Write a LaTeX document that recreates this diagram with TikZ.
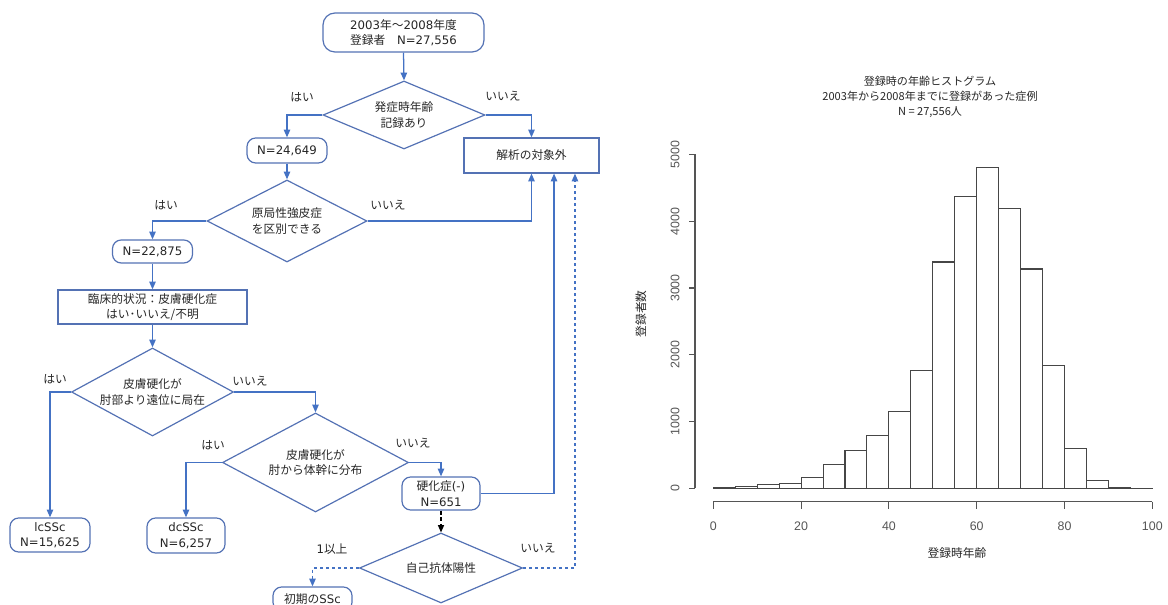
\documentclass[tikz,border=0pt]{standalone}
\usepackage{fontspec}
\setmainfont{DejaVu Sans}
\newfontfamily\jp{Noto Sans CJK JP}
\newfontfamily\arl{Liberation Sans}
\usetikzlibrary{shapes.geometric,arrows.meta}
\definecolor{lnblue}{RGB}{68,114,196}
\definecolor{shblue}{RGB}{84,114,180}
\definecolor{txt}{RGB}{38,38,38}
\definecolor{barc}{RGB}{70,70,70}
\definecolor{axc}{RGB}{85,85,85}
\newcommand\pxl[1]{#1*0.75pt}
\begin{document}
\begin{tikzpicture}[x=0.75pt,y=-0.75pt,
  fs/.style={font=\fontsize{8.8}{11.6}\selectfont},
  box/.style={draw=shblue,line width=0.9pt,fill=white,text=txt,align=center,inner sep=0pt,fs},
  rbox/.style={box,rounded corners=6.5pt},
  dia/.style={diamond,draw=shblue,line width=0.9pt,inner sep=0pt},
  lab/.style={text=txt,align=center,inner sep=0pt,fs},
  yn/.style={text=txt,inner sep=0pt,fs},
  arr/.style={draw=lnblue,line width=0.95pt,-{Triangle[length=5.8pt,width=4.8pt]}},
  darr/.style={arr,dash pattern=on 2.5pt off 2pt},
  karr/.style={draw=black,line width=0.8pt,dash pattern=on 3pt off 2pt,-{Triangle[length=5.5pt,width=4.6pt]}},
  barst/.style={draw=barc,line width=0.8pt},
  axst/.style={draw=axc,line width=0.85pt},
  tlab/.style={text=axc,inner sep=0pt,font=\arl\fontsize{9.3}{10}\selectfont},
  ttl/.style={text=txt,inner sep=0pt,font=\jp\fontsize{8.3}{10}\selectfont},
  axlab/.style={text=txt,inner sep=0pt,font=\jp\fontsize{8.8}{10}\selectfont}]
\useasboundingbox (0,0) rectangle (1168,605);
\clip (0,0) rectangle (1168,605);

% ---------------- flowchart ----------------
\node[rbox,minimum width=\pxl{161},minimum height=\pxl{39},rounded corners=9pt] (s) at (403.5,32.5)
  {2003{\jp 年～}2008{\jp 年度}\\{\jp 登録者　}N=27,556};
\node[dia,minimum width=\pxl{162},minimum height=\pxl{68},
  label={[lab]center:{{\jp 発症時年齢}\\{\jp 記録あり}}}] (d1) at (404,115) {};
\node[rbox,minimum width=\pxl{80},minimum height=\pxl{25}] (n2) at (287,150.5) {N=24,649};
\node[box,minimum width=\pxl{135},minimum height=\pxl{35}] (ex) at (531.5,155.5) {{\jp 解析の対象外}};
\node[dia,minimum width=\pxl{160},minimum height=\pxl{82},
  label={[lab]center:{{\jp 原局性強皮症}\\{\jp を区別できる}}}] (d2) at (287,221) {};
\node[rbox,minimum width=\pxl{80},minimum height=\pxl{23}] (n3) at (152.5,251.5) {N=22,875};
\node[box,minimum width=\pxl{189},minimum height=\pxl{34}] (cl) at (152.5,307)
  {{\jp 臨床的状況：皮膚硬化症}\\{\jp はい･いいえ/不明}};
\node[dia,minimum width=\pxl{162},minimum height=\pxl{88},
  label={[lab]center:{{\jp 皮膚硬化が}\\{\jp 肘部より遠位に局在}}}] (d3) at (152.5,392) {};
\node[rbox,minimum width=\pxl{80},minimum height=\pxl{34}] (lc) at (50,535) {lcSSc\\N=15,625};
\node[dia,minimum width=\pxl{186},minimum height=\pxl{99},
  label={[lab]center:{{\jp 皮膚硬化が}\\{\jp 肘から体幹に分布}}}] (d4) at (315.5,462.5) {};
\node[rbox,minimum width=\pxl{78},minimum height=\pxl{35}] (dc) at (186,535.5) {dcSSc\\N=6,257};
\node[rbox,minimum width=\pxl{78},minimum height=\pxl{33}] (k) at (441,493.5) {{\jp 硬化症}(-)\\N=651};
\node[dia,minimum width=\pxl{163},minimum height=\pxl{70},
  label={[lab]center:{{\jp 自己抗体陽性}}}] (d5) at (441,568) {};
\node[rbox,minimum width=\pxl{79},minimum height=\pxl{24}] (ea) at (312.5,599) {{\jp 初期の}SSc};

% yes/no labels
\node[yn] (y1) at (302,97) {\jp はい};
\node[yn] (m1) at (503,96) {\jp いいえ};
\node[yn] (y2) at (166,205) {\jp はい};
\node[yn] (m2) at (388,205) {\jp いいえ};
\node[yn] (y3) at (55,379) {\jp はい};
\node[yn] (m3) at (250,381) {\jp いいえ};
\node[yn] (y4) at (213,445) {\jp はい};
\node[yn] (m4) at (413,443) {\jp いいえ};
\node[yn] (y5) at (332,549) {1{\jp 以上}};
\node[yn] (m5) at (538,548) {\jp いいえ};

% connectors
\draw[arr] (s.south) -- (d1.north);
\draw[arr] (d1.west) -| (n2.north);
\draw[arr] (d1.east) -| (ex.north);
\draw[arr] (n2.south) -- (d2.north);
\draw[arr] (d2.west) -| (n3.north);
\draw[arr] (d2.east) -| (ex.south);
\draw[arr] (n3.south) -- (cl.north);
\draw[arr] (cl.south) -- (d3.north);
\draw[arr] (d3.west) -| (lc.north);
\draw[arr] (d3.east) -| (d4.north);
\draw[arr] (d4.west) -| (dc.north);
\draw[arr] (d4.east) -| (k.north);
\draw[arr] (k.east) -| ([xshift=16.9pt]ex.south);
\draw[karr] (k.south) -- (d5.north);
\draw[darr] (d5.west) -| (ea.north);
\draw[darr] (d5.east) -| ([xshift=32.6pt]ex.south);

% ---------------- histogram ----------------
\foreach \a/\c in {0/15,5/30,10/55,15/70,20/160,25/360,30/560,35/795,40/1150,45/1765,50/3390,55/4370,60/4810,65/4195,70/3285,75/1835,80/595,85/120,90/15,95/3}
  \draw[barst] ({713.3+4.39*\a},488.3) rectangle ({713.3+4.39*(\a+5)},{488.3-0.06676*\c});
\draw[axst] (713.3,501.7) -- (1152.3,501.7);
\foreach \t in {0,20,40,60,80,100}{
  \draw[axst] ({713.3+4.39*\t},501.7) -- ({713.3+4.39*\t},508.7);
  \node[tlab] (xt\t) at ({713.3+4.39*\t},526) {\t};
}
\draw[axst] (695,488.3) -- (695,154.5);
\foreach \t in {0,1000,2000,3000,4000,5000}{
  \draw[axst] (695,{488.3-0.06676*\t}) -- (689,{488.3-0.06676*\t});
  \node[tlab,rotate=90] (yt\t) at (675,{488.3-0.06676*\t}) {\t};
}
\node[ttl] (t1) at (930,81) {登録時の年齢ヒストグラム};
\node[ttl] (t2) at (930,96.5) {2003年から2008年までに登録があった症例};
\node[ttl] (t3) at (930,112) {N = 27,556人};
\node[axlab] (xl) at (957,553) {登録時年齢};
\node[axlab,rotate=90] (yl) at (641,314) {登録者数};
\end{tikzpicture}
\end{document}
